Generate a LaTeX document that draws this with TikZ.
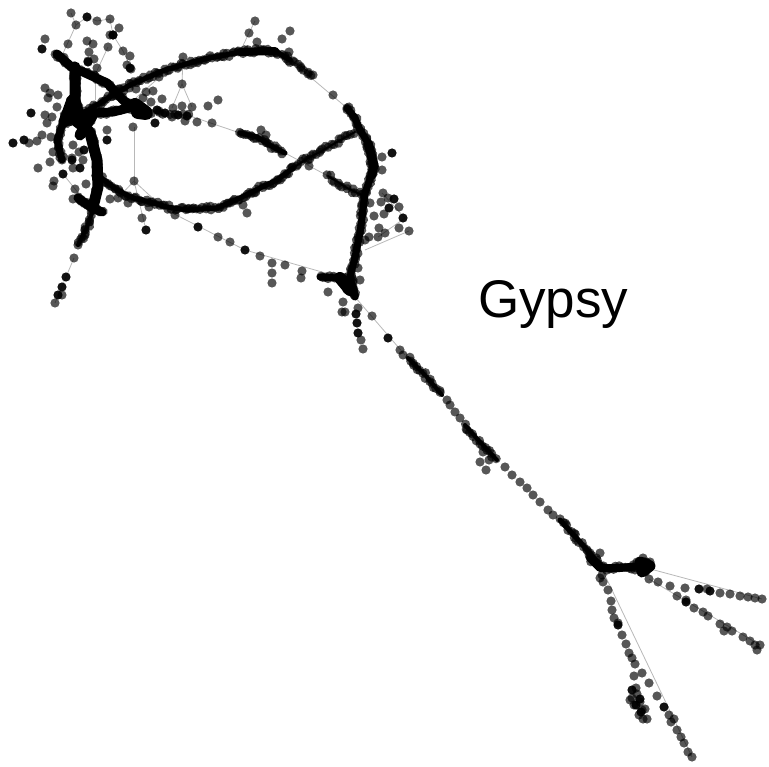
\documentclass[tikz,border=0pt]{standalone}
\usepackage{fontspec}
\setmainfont{Liberation Sans}
\usetikzlibrary{decorations.markings}
\pgfmathsetseed{7}

\begin{document}
\begin{tikzpicture}[
    x=1pt, y=-1pt,
    vtx/.style={fill=black, opacity=0.66},
    vtxd/.style={fill=black, opacity=0.93},
    link/.style={draw=black!28, line width=0.8pt},
    core/.style={draw=black, line width=#1, line cap=round, line join=round},
    strand/.style={postaction={decorate, decoration={markings,
      mark=between positions 0 and 1 step #1 with {\fill[vtx] (rand*1.5,rand*2.2) circle (4.6);}}}},
    lab/.style={inner sep=0pt, anchor=base west, font=\fontsize{53}{53}\selectfont},
  ]
  \useasboundingbox (0,0) rectangle (769,767);

  %% ---- thin edges ------------------------------------------------------
  \coordinate (hubA) at (134,127);
  \coordinate (hubB) at (134,181);
  \coordinate (hubC) at (182,84);
  \draw[link] (hubA) -- (hubB);
  \draw[link] (hubC) -- (183,57);
  \draw[link] (hubC) -- (172,108);
  \draw[link] (hubC) -- (192,107);
  \draw[link] (hubB) -- (146,230);
  \draw[link] (hubB) -- (160,205);
  \draw[link] (hubB) -- (118,198);
  \draw[link] (71,13) -- (76,25) -- (60,60);
  \draw[link] (76,25) -- (87,17) -- (97,21) -- (110,19) -- (113,35) -- (123,51) -- (130,66);
  \draw[link] (108,47) -- (95,75);
  \draw[link] (95,75) -- (95,100);
  \draw[link] (162,75) -- (120,112);
  \draw[link] (193,117) -- (240,133);
  \draw[link] (285,153) -- (328,176);
  \draw[link] (290,60) -- (347,108);
  \draw[link] (133,193) -- (245,250) -- (350,280);
  \draw[link] (355,297) -- (405,355);
  \draw[link] (63,174) -- (88,205);
  \draw[link] (249,33) -- (255,21);
  \draw[link] (249,33) -- (240,52);
  \draw[link] (382,193) -- (405,218) -- (378,237);
  \draw[link] (409,231) -- (365,250);
  \draw[link] (600,565) -- (692,757);
  \draw[link] (643,567) -- (762,599);
  \draw[link] (649,579) -- (760,645);
  \draw[link] (74,258) -- (55,303);

  %% ---- dense strands ---------------------------------------------------
  % upper arc
  \draw[core=5pt, strand=2.5pt] (85,112) -- (110,97) -- (130,85) -- (165,70) -- (200,60) -- (240,52) -- (260,50) -- (277,52) -- (290,60);
  \draw[core=8pt] (240,52) -- (275,51);
  \draw[strand=3pt] (290,60) -- (302,67) -- (313,75);
  \draw[core=7pt, strand=2.5pt] (347,108) -- (355,118) -- (360,130) -- (368,143) -- (372,160) -- (372,173) -- (365,193) -- (363,210) -- (360,233) -- (355,257) -- (350,277) -- (355,297);
  \draw[core=9pt, strand=3pt] (368,143) -- (374,165) -- (372,175);
  % left block
  \draw[core=11pt, strand=2.5pt] (75,67) -- (75,100) -- (80,120) -- (90,133) -- (97,160) -- (98,187) -- (93,207);
  \draw[core=9pt, strand=2.5pt] (57,54) -- (75,70) -- (83,72) -- (107,83) -- (123,100) -- (143,113);
  \draw[core=7pt, strand=2.5pt] (80,117) -- (63,123) -- (57,140) -- (62,160);
  \draw[core=9pt, strand=2.5pt] (70,115) -- (93,113) -- (113,112) -- (133,107) -- (146,115);
  \draw[core=11pt, strand=2.5pt] (72,100) -- (64,122) -- (75,112) -- (85,128) -- (72,118) -- (92,116) -- (80,135);
  \draw[core=14pt, strand=3pt] (135,105) -- (146,113) -- (138,112);
  \draw[core=9pt, strand=2.5pt] (78,198) -- (92,208) -- (102,212);
  \draw[core=4pt, strand=3pt] (93,210) -- (87,227) -- (78,245);
  % lower curve
  \draw[core=5pt, strand=2.5pt] (100,177) -- (117,190) -- (133,198) -- (150,202) -- (167,207) -- (187,210) -- (217,208) -- (240,198) -- (260,188) -- (277,180) -- (293,168);
  \draw[core=2pt, strand=3pt] (293,168) -- (308,158) -- (320,152) -- (337,142) -- (355,132);
  % middle strand
  \draw[strand=6pt] (146,113) -- (173,113) -- (193,117);
  \draw[core=5pt, strand=2.5pt] (240,133) -- (257,137) -- (273,147) -- (285,153);
  \draw[core=2pt, strand=3pt] (328,176) -- (347,188) -- (362,195);
  % lower line, end at the junction
  \draw[core=7pt, strand=2.5pt] (320,277) -- (337,278) -- (350,280) -- (355,295);
  \draw[core=12pt, strand=3pt] (340,278) -- (350,290) -- (345,283);
  % long tail
  \draw[core=4pt, strand=3pt] (408,358) -- (425,375) -- (442,395);
  \draw[core=4pt, strand=3pt] (465,425) -- (480,442) -- (497,460);
  \draw[core=5pt, strand=3pt] (560,520) -- (580,542) -- (600,565);
  \draw[core=8pt, strand=3pt] (590,558) -- (600,568) -- (620,568) -- (640,566);
  \draw[core=11pt, strand=3pt] (640,562) -- (650,566) -- (642,572);

  %% ---- single vertices -------------------------------------------------
  \foreach \px/\py in {
    71/13, 97/21, 76/25, 110/19, 119/28, 113/35, 110/35, 45/39, 68/44, 87/41, 93/44, 108/47,
    123/51, 130/56, 89/52, 94/59, 88/61, 97/68, 127/65, 131/69, 45/88, 50/93, 48/98, 58/95, 57/107,
    45/115, 52/117, 47/123, 29/143, 37/141, 42/135, 51/137, 53/152, 50/162, 38/168, 62/160,
    54/181, 53/186, 72/158, 73/168, 73/145, 79/152, 83/160, 75/189, 86/184, 73/199, 80/200, 110/199,
    118/198, 128/203, 134/181, 149/207, 142/218, 133/127, 107/130, 159/111,
    151/102, 162/99, 153/91, 146/92, 136/89, 143/98, 182/84, 183/57, 173/108, 182/106, 192/107, 208/106,
    218/100, 172/117, 185/121, 197/122, 212/123, 159/77, 175/215, 218/237, 230/242,
    260/256, 272/263, 285/265, 302/271, 249/33, 255/21, 282/39, 290/31, 257/42, 289/52, 261/130, 266/135,
    313/75, 333/95, 347/108, 382/157, 382/170, 383/193, 381/202, 388/198, 399/207,
    384/214, 374/216, 399/228, 409/231, 379/228, 378/237, 385/233, 369/237, 365/240,
    370/203, 358/268, 360/280, 272/273, 272/283, 301/278, 328/292, 358/308, 343/302, 345/312, 342/312,
    361/340, 363/349, 243/205, 247/213, 309/166, 372/316, 403/355, 400/350,
    308/160, 450/405, 447/400, 455/412, 460/418, 505/467, 512/475, 520/482, 527/488, 533/495, 540/502,
    548/510, 553/515, 483/452, 489/460, 480/462, 486/470,
    649/579, 658/582, 670/586, 685/588, 707/589, 720/593, 730/594, 740/596, 748/597,
    755/598, 762/599, 677/596, 686/600, 694/608, 703/612, 708/616, 720/624, 727/627, 724/631,
    732/631, 743/637, 750/641, 755/645, 760/645, 757/650, 603/582, 608/590, 611/601, 612/610, 614/618,
    618/623, 622/635, 626/644, 629/653, 632/658, 635/664, 642/673, 634/676, 649/683, 657/696,
    669/715, 674/719, 671/722, 677/730, 681/737, 684/743, 688/752, 692/757,
    636/688, 632/698, 640/702, 642/710, 643/719, 630/700, 637/694, 645/709, 639/715, 647/719, 634/705,
    643/558, 650/562, 637/562, 645/572, 640/570, 635/570, 602/575, 595/562, 600/553, 590/553, 600/578,
    55/303, 62/295, 74/258, 78/245, 82/237, 85/230, 89/222
    } {
    \fill[vtx] (\px,\py) circle (4.6);
  }
  \foreach \px/\py in {
    87/17, 42/49, 146/230, 63/174, 198/227, 245/250, 388/338, 394/199, 389/208, 403/218, 392/153,
    356/314, 357/323, 358/333, 699/589, 710/591, 686/602, 618/625, 664/707, 107/140, 155/123,
    13/143, 24/140, 31/113, 66/277, 62/287, 58/295, 165/113, 178/115, 187/116, 157/110,
    640/699, 636/705, 641/712, 632/690, 72/160, 80/168, 84/150, 88/62, 130/68, 113/35
    } {
    \fill[vtxd] (\px,\py) circle (4.6);
  }

  %% ---- label -----------------------------------------------------------
  \node[lab] (title) at (478,318) {Gypsy};
\end{tikzpicture}
\end{document}
